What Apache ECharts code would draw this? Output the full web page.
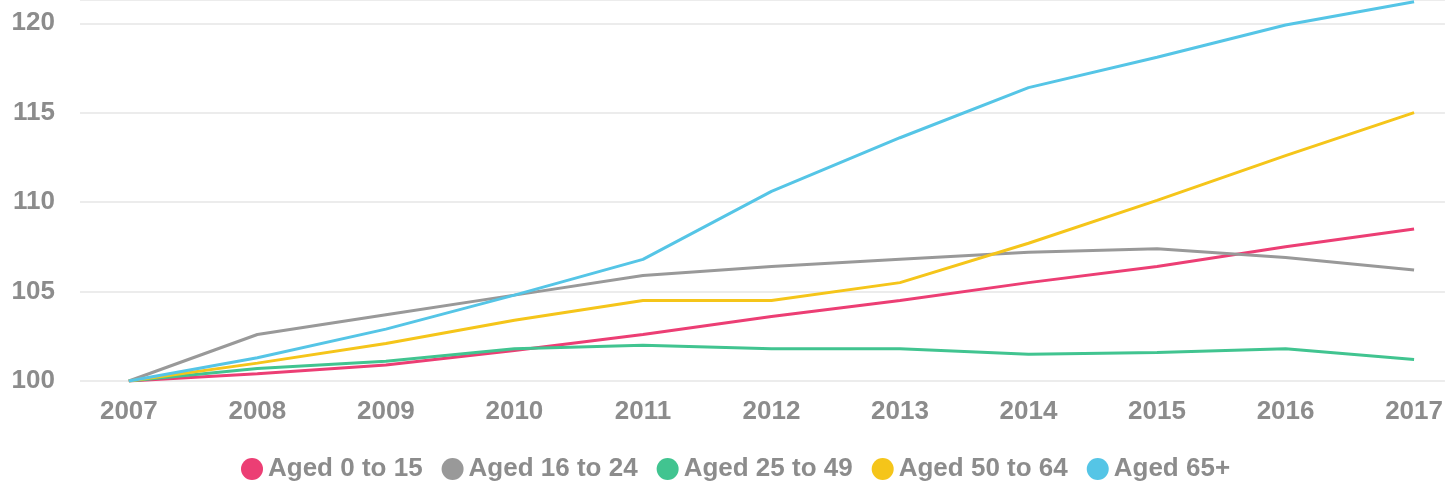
<!DOCTYPE html>
<html>
<head>
<meta charset="utf-8">
<title>Population change by age group, 2007 = 100</title>
<script src="https://cdn.jsdelivr.net/npm/echarts@6/dist/echarts.min.js"></script>
<style>
  html, body { margin: 0; padding: 0; background: #ffffff; }
  #chart { width: 1446px; height: 483px; }
</style>
</head>
<body>
<div id="chart"></div>
<script>
// Index of population by age group (2007 = 100)
const years = [2007, 2008, 2009, 2010, 2011, 2012, 2013, 2014, 2015, 2016, 2017];
const aged0to15  = [100, 100.4, 100.9, 101.7, 102.6, 103.6, 104.5, 105.5, 106.4, 107.5, 108.5];
const aged16to24 = [100, 102.6, 103.7, 104.8, 105.9, 106.4, 106.8, 107.2, 107.4, 106.9, 106.2];
const aged25to49 = [100, 100.7, 101.1, 101.8, 102.0, 101.8, 101.8, 101.5, 101.6, 101.8, 101.2];
const aged50to64 = [100, 101.0, 102.1, 103.4, 104.5, 104.5, 105.5, 107.7, 110.1, 112.6, 115.0];
const aged65plus = [100, 101.3, 102.9, 104.8, 106.8, 110.6, 113.6, 116.4, 118.1, 119.9, 121.2];
const yTicks = [100, 105, 110, 115, 120];

const seriesDefs = [
  { name: 'Aged 0 to 15',  values: aged0to15,  color: '#EC3E74' },
  { name: 'Aged 16 to 24', values: aged16to24, color: '#999999' },
  { name: 'Aged 25 to 49', values: aged25to49, color: '#41C490' },
  { name: 'Aged 50 to 64', values: aged50to64, color: '#F5C51A' },
  { name: 'Aged 65+',      values: aged65plus, color: '#55C5E6' }
];

const labelColor = '#8c8c8c';

const chart = echarts.init(document.getElementById('chart'), null, { renderer: 'canvas' });

chart.setOption({
  animation: false,
  backgroundColor: '#ffffff',
  textStyle: { fontFamily: 'Liberation Sans, Arial, sans-serif' },
  grid: { left: 80, right: 0, top: 0, bottom: 102, containLabel: false },
  legend: {
    top: 451,
    left: 236,
    icon: 'circle',
    itemWidth: 22,
    itemHeight: 22,
    itemGap: 19,
    textStyle: { fontSize: 26, fontWeight: 'bold', color: labelColor, padding: [0, 0, 0, 0] },
    data: seriesDefs.map(s => s.name)
  },
  xAxis: {
    type: 'value',
    min: 2006.62,
    max: 2017.24,
    axisLine: { show: false },
    axisTick: { show: false },
    splitLine: { show: false },
    axisLabel: {
      customValues: years,
      margin: 18,
      fontSize: 26,
      fontWeight: 'bold',
      color: labelColor,
      formatter: v => String(v)
    }
  },
  yAxis: {
    type: 'value',
    min: 100,
    max: 121.3,
    interval: 5,
    axisLine: { show: false },
    axisTick: { show: false },
    axisLabel: {
      customValues: yTicks,
      margin: 25,
      fontSize: 26,
      fontWeight: 'bold',
      color: labelColor
    },
    splitLine: {
      show: true,
      lineStyle: { color: '#ececec', width: 2 }
    }
  },
  series: seriesDefs.map(s => ({
    name: s.name,
    type: 'line',
    data: years.map((y, i) => [y, s.values[i]]),
    showSymbol: false,
    symbol: 'circle',
    color: s.color,
    lineStyle: { width: 3, color: s.color }
  }))
});
</script>
</body>
</html>
